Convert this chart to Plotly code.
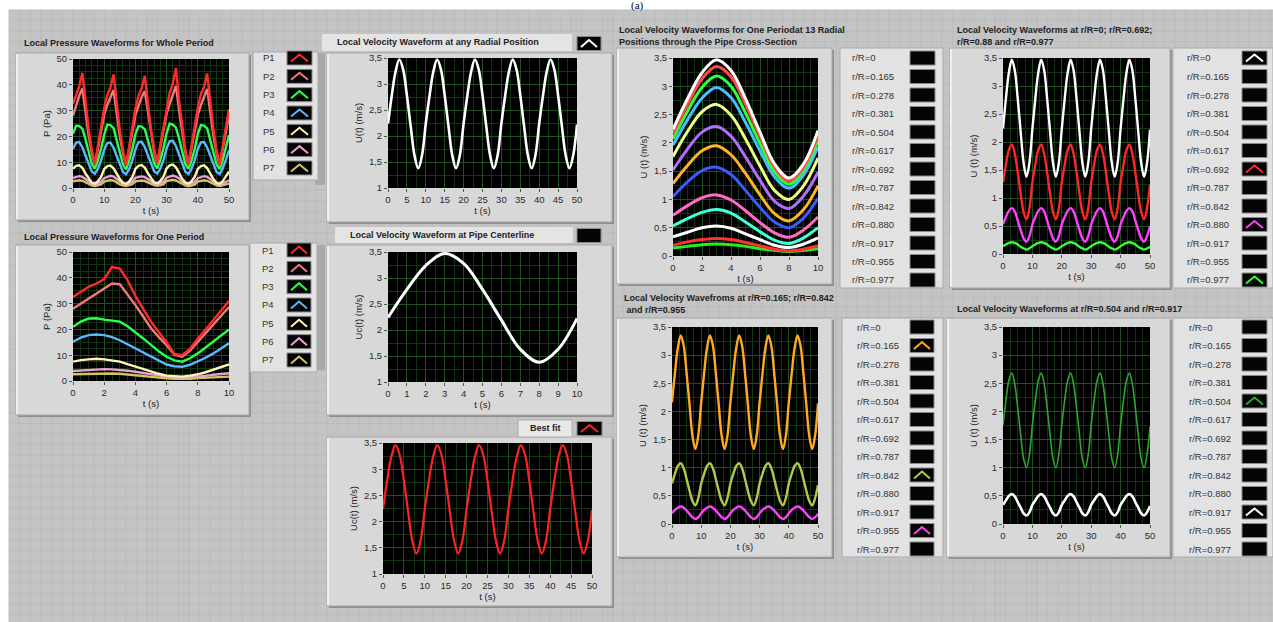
import plotly.graph_objects as go

W, H = 1273, 622

# ---------------- data ----------------
t_whole = list(range(51))                       # 0 .. 50 s, 1 s step
t_one = list(range(11))                         # 0 .. 10 s, 1 s step
t_half = [k / 2 for k in range(21)]             # 0 .. 10 s, 0.5 s step

# local pressure, whole period (Pa)
p1_whole = [32.6, 36.5, 39.5, 44.6, 33.5, 23.0, 15.0, 9.4, 16.5, 23.6,
            31.0, 36.0, 39.0, 44.0, 33.0, 22.5, 14.8, 9.0, 16.0, 23.2,
            30.8, 35.8, 38.6, 43.5, 32.8, 22.8, 15.2, 9.6, 16.8, 23.8,
            31.5, 37.0, 40.5, 46.5, 34.0, 23.5, 15.0, 9.2, 16.2, 23.4,
            31.2, 36.4, 39.2, 44.4, 33.2, 23.0, 14.6, 9.0, 16.4, 23.5, 30.5]
p2_whole = [28.0, 32.0, 35.8, 38.6, 29.4, 20.4, 13.9, 9.2, 15.2, 21.6,
            28.5, 32.2, 35.5, 38.0, 29.0, 20.0, 13.6, 9.0, 15.0, 21.4,
            28.2, 31.8, 35.2, 37.6, 29.2, 20.6, 14.0, 9.4, 15.4, 21.8,
            28.8, 32.6, 36.4, 39.6, 30.0, 20.8, 13.8, 9.1, 15.1, 21.5,
            28.4, 32.1, 35.6, 38.4, 29.3, 20.3, 13.5, 9.0, 15.3, 21.7, 28.0]
p3_whole = [21.0, 24.2, 24.0, 23.0, 19.0, 14.0, 9.4, 7.5, 10.7, 15.2,
            20.6, 24.6, 24.4, 23.2, 18.6, 13.6, 9.2, 7.2, 10.5, 15.0,
            20.8, 24.0, 23.8, 22.8, 18.8, 14.2, 9.6, 7.6, 10.9, 15.4,
            21.2, 25.0, 24.6, 23.4, 19.2, 14.1, 9.3, 7.4, 10.6, 15.1,
            20.9, 24.4, 24.2, 23.1, 18.9, 13.9, 9.2, 7.3, 10.8, 15.3, 20.5]
p4_whole = [15.2, 17.6, 17.8, 15.8, 12.6, 9.4, 6.4, 5.5, 7.5, 10.7,
            14.8, 17.4, 17.6, 15.6, 12.4, 9.2, 6.2, 5.3, 7.4, 10.6,
            15.0, 17.8, 17.9, 15.9, 12.7, 9.5, 6.5, 5.6, 7.6, 10.8,
            15.3, 18.2, 18.3, 16.2, 12.8, 9.4, 6.3, 5.4, 7.5, 10.7,
            15.1, 17.7, 17.8, 15.7, 12.5, 9.3, 6.2, 5.4, 7.6, 10.9, 14.6]
p5_whole = [7.5, 8.6, 8.8, 7.8, 5.6, 3.6, 2.1, 1.7, 2.6, 4.3,
            7.3, 8.5, 8.7, 7.6, 5.5, 3.5, 2.0, 1.6, 2.5, 4.2,
            7.4, 8.6, 8.9, 7.9, 5.7, 3.7, 2.2, 1.8, 2.7, 4.4,
            7.6, 8.8, 9.1, 8.0, 5.8, 3.6, 2.1, 1.7, 2.6, 4.3,
            7.4, 8.5, 8.8, 7.7, 5.6, 3.5, 2.0, 1.7, 2.6, 4.3, 6.4]
p6_whole = [3.9, 4.3, 4.6, 4.3, 3.6, 2.6, 1.7, 1.3, 1.7, 2.4,
            3.8, 4.4, 4.7, 4.4, 3.5, 2.5, 1.6, 1.3, 1.8, 2.5,
            3.9, 4.2, 4.5, 4.2, 3.6, 2.7, 1.8, 1.4, 1.7, 2.4,
            4.0, 4.5, 4.8, 4.4, 3.7, 2.6, 1.7, 1.2, 1.6, 2.3,
            3.8, 4.3, 4.6, 4.3, 3.6, 2.6, 1.7, 1.3, 1.7, 2.4, 3.0]
p7_whole = [2.6, 2.8, 3.0, 2.8, 2.1, 1.5, 1.0, 0.8, 1.1, 1.4,
            2.5, 2.9, 3.1, 2.9, 2.0, 1.4, 1.0, 0.8, 1.1, 1.5,
            2.6, 2.7, 2.9, 2.7, 2.1, 1.6, 1.1, 0.9, 1.2, 1.4,
            2.7, 2.9, 3.2, 2.9, 2.2, 1.5, 1.0, 0.7, 1.0, 1.3,
            2.5, 2.8, 3.0, 2.8, 2.1, 1.5, 1.0, 0.8, 1.1, 1.4, 1.7]

# local pressure, one period (Pa), 0.5 s step
p1_one = [32.6, 34.5, 36.5, 37.8, 39.5, 44.2, 43.6, 39.0, 33.0, 28.0, 23.0,
          19.0, 15.0, 10.5, 10.0, 12.5, 16.5, 20.0, 23.6, 27.5, 31.0]
p2_one = [28.0, 30.0, 32.0, 34.0, 35.8, 37.8, 37.5, 33.5, 29.4, 25.0, 20.4,
          17.0, 13.9, 10.2, 9.4, 11.8, 15.2, 18.4, 21.6, 25.0, 28.7]
p3_one = [21.0, 23.0, 24.2, 24.3, 23.8, 23.5, 23.0, 21.2, 19.0, 16.5, 14.0,
          11.5, 9.4, 8.0, 7.5, 8.8, 10.7, 13.0, 15.2, 17.6, 20.0]
p4_one = [15.2, 16.8, 17.8, 18.0, 17.8, 17.0, 15.8, 14.2, 12.6, 11.0, 9.4,
          7.8, 6.4, 5.7, 5.5, 6.3, 7.5, 9.0, 10.7, 12.6, 14.6]
p5_one = [7.5, 8.1, 8.4, 8.6, 8.4, 8.0, 7.5, 6.5, 5.5, 4.5, 3.6,
          2.8, 2.1, 1.8, 1.7, 2.1, 2.6, 3.4, 4.3, 5.4, 6.4]
p6_one = [3.9, 4.1, 4.3, 4.5, 4.6, 4.5, 4.3, 4.0, 3.6, 3.1, 2.6,
          2.1, 1.7, 1.4, 1.3, 1.5, 1.7, 2.0, 2.4, 2.7, 3.0]
p7_one = [2.6, 2.7, 2.8, 2.9, 3.0, 2.9, 2.8, 2.5, 2.1, 1.8, 1.5,
          1.2, 1.0, 0.9, 0.8, 0.9, 1.1, 1.2, 1.4, 1.5, 1.7]

# local velocity over one period at 13 radial positions (m/s), 1 s step
radial_labels = ["r/R=0", "r/R=0.165", "r/R=0.278", "r/R=0.381", "r/R=0.504",
                 "r/R=0.617", "r/R=0.692", "r/R=0.787", "r/R=0.842", "r/R=0.880",
                 "r/R=0.917", "r/R=0.955", "r/R=0.977"]
u_one = [
    [2.24, 2.78, 3.24, 3.47, 3.28, 2.78, 2.19, 1.63, 1.38, 1.63, 2.22],
    [2.16, 2.68, 3.13, 3.35, 3.17, 2.68, 2.12, 1.57, 1.33, 1.57, 2.14],
    [2.07, 2.56, 2.98, 3.18, 3.00, 2.53, 1.99, 1.49, 1.27, 1.51, 2.04],
    [1.96, 2.41, 2.79, 2.98, 2.80, 2.36, 1.86, 1.40, 1.20, 1.43, 1.93],
    [1.76, 2.20, 2.55, 2.68, 2.49, 2.07, 1.59, 1.16, 1.00, 1.24, 1.73],
    [1.52, 1.89, 2.19, 2.29, 2.12, 1.75, 1.34, 0.97, 0.84, 1.06, 1.48],
    [1.28, 1.60, 1.86, 1.95, 1.79, 1.46, 1.08, 0.75, 0.62, 0.82, 1.24],
    [1.05, 1.31, 1.51, 1.57, 1.44, 1.16, 0.86, 0.60, 0.50, 0.67, 1.02],
    [0.72, 0.89, 1.03, 1.08, 0.99, 0.80, 0.59, 0.41, 0.33, 0.46, 0.69],
    [0.53, 0.66, 0.77, 0.82, 0.76, 0.60, 0.43, 0.28, 0.22, 0.32, 0.50],
    [0.34, 0.42, 0.50, 0.53, 0.49, 0.39, 0.29, 0.19, 0.15, 0.21, 0.32],
    [0.19, 0.25, 0.29, 0.31, 0.29, 0.24, 0.18, 0.12, 0.09, 0.12, 0.18],
    [0.14, 0.17, 0.20, 0.21, 0.20, 0.17, 0.13, 0.10, 0.08, 0.10, 0.13],
]

# local velocity over the whole record (m/s), 1 s step
u_r0_whole = [2.24, 2.78, 3.24, 3.47, 3.28, 2.78, 2.19, 1.63, 1.38, 1.63,
              2.24, 2.78, 3.24, 3.47, 3.28, 2.78, 2.19, 1.63, 1.38, 1.63,
              2.24, 2.78, 3.24, 3.47, 3.28, 2.78, 2.19, 1.63, 1.38, 1.63,
              2.24, 2.78, 3.24, 3.47, 3.28, 2.78, 2.19, 1.63, 1.38, 1.63,
              2.24, 2.78, 3.24, 3.47, 3.28, 2.78, 2.19, 1.63, 1.38, 1.63, 2.22]
u_fit_whole = [2.24, 2.79, 3.24, 3.46, 3.27, 2.78, 2.19, 1.64, 1.39, 1.64,
               2.24, 2.79, 3.24, 3.46, 3.27, 2.78, 2.19, 1.64, 1.39, 1.64,
               2.24, 2.79, 3.24, 3.46, 3.27, 2.78, 2.19, 1.64, 1.39, 1.64,
               2.24, 2.79, 3.24, 3.46, 3.27, 2.78, 2.19, 1.64, 1.39, 1.64,
               2.24, 2.79, 3.24, 3.46, 3.27, 2.78, 2.19, 1.64, 1.39, 1.64, 2.22]
u_r165_whole = [2.16, 2.68, 3.13, 3.35, 3.17, 2.68, 2.12, 1.57, 1.33, 1.57,
                2.16, 2.68, 3.13, 3.35, 3.17, 2.68, 2.12, 1.57, 1.33, 1.57,
                2.16, 2.68, 3.13, 3.35, 3.17, 2.68, 2.12, 1.57, 1.33, 1.57,
                2.16, 2.68, 3.13, 3.35, 3.17, 2.68, 2.12, 1.57, 1.33, 1.57,
                2.16, 2.68, 3.13, 3.35, 3.17, 2.68, 2.12, 1.57, 1.33, 1.57, 2.14]
u_r504_whole = [1.76, 2.20, 2.55, 2.68, 2.49, 2.07, 1.59, 1.16, 1.00, 1.24,
                1.76, 2.20, 2.55, 2.68, 2.49, 2.07, 1.59, 1.16, 1.00, 1.24,
                1.76, 2.20, 2.55, 2.68, 2.49, 2.07, 1.59, 1.16, 1.00, 1.24,
                1.76, 2.20, 2.55, 2.68, 2.49, 2.07, 1.59, 1.16, 1.00, 1.24,
                1.76, 2.20, 2.55, 2.68, 2.49, 2.07, 1.59, 1.16, 1.00, 1.24, 1.73]
u_r692_whole = [1.28, 1.60, 1.86, 1.95, 1.79, 1.46, 1.08, 0.75, 0.62, 0.82,
                1.28, 1.60, 1.86, 1.95, 1.79, 1.46, 1.08, 0.75, 0.62, 0.82,
                1.28, 1.60, 1.86, 1.95, 1.79, 1.46, 1.08, 0.75, 0.62, 0.82,
                1.28, 1.60, 1.86, 1.95, 1.79, 1.46, 1.08, 0.75, 0.62, 0.82,
                1.28, 1.60, 1.86, 1.95, 1.79, 1.46, 1.08, 0.75, 0.62, 0.82, 1.24]
u_r842_whole = [0.72, 0.89, 1.03, 1.08, 0.99, 0.80, 0.59, 0.41, 0.33, 0.46,
                0.72, 0.89, 1.03, 1.08, 0.99, 0.80, 0.59, 0.41, 0.33, 0.46,
                0.72, 0.89, 1.03, 1.08, 0.99, 0.80, 0.59, 0.41, 0.33, 0.46,
                0.72, 0.89, 1.03, 1.08, 0.99, 0.80, 0.59, 0.41, 0.33, 0.46,
                0.72, 0.89, 1.03, 1.08, 0.99, 0.80, 0.59, 0.41, 0.33, 0.46, 0.69]
u_r880_whole = [0.53, 0.66, 0.77, 0.82, 0.76, 0.60, 0.43, 0.28, 0.22, 0.32,
                0.53, 0.66, 0.77, 0.82, 0.76, 0.60, 0.43, 0.28, 0.22, 0.32,
                0.53, 0.66, 0.77, 0.82, 0.76, 0.60, 0.43, 0.28, 0.22, 0.32,
                0.53, 0.66, 0.77, 0.82, 0.76, 0.60, 0.43, 0.28, 0.22, 0.32,
                0.53, 0.66, 0.77, 0.82, 0.76, 0.60, 0.43, 0.28, 0.22, 0.32, 0.50]
u_r917_whole = [0.34, 0.42, 0.50, 0.53, 0.49, 0.39, 0.29, 0.19, 0.15, 0.21,
                0.34, 0.42, 0.50, 0.53, 0.49, 0.39, 0.29, 0.19, 0.15, 0.21,
                0.34, 0.42, 0.50, 0.53, 0.49, 0.39, 0.29, 0.19, 0.15, 0.21,
                0.34, 0.42, 0.50, 0.53, 0.49, 0.39, 0.29, 0.19, 0.15, 0.21,
                0.34, 0.42, 0.50, 0.53, 0.49, 0.39, 0.29, 0.19, 0.15, 0.21, 0.32]
u_r955_whole = [0.19, 0.25, 0.29, 0.31, 0.29, 0.24, 0.18, 0.12, 0.09, 0.12,
                0.19, 0.25, 0.29, 0.31, 0.29, 0.24, 0.18, 0.12, 0.09, 0.12,
                0.19, 0.25, 0.29, 0.31, 0.29, 0.24, 0.18, 0.12, 0.09, 0.12,
                0.19, 0.25, 0.29, 0.31, 0.29, 0.24, 0.18, 0.12, 0.09, 0.12,
                0.19, 0.25, 0.29, 0.31, 0.29, 0.24, 0.18, 0.12, 0.09, 0.12, 0.18]
u_r977_whole = [0.14, 0.17, 0.20, 0.21, 0.20, 0.17, 0.13, 0.10, 0.08, 0.10,
                0.14, 0.17, 0.20, 0.21, 0.20, 0.17, 0.13, 0.10, 0.08, 0.10,
                0.14, 0.17, 0.20, 0.21, 0.20, 0.17, 0.13, 0.10, 0.08, 0.10,
                0.14, 0.17, 0.20, 0.21, 0.20, 0.17, 0.13, 0.10, 0.08, 0.10,
                0.14, 0.17, 0.20, 0.21, 0.20, 0.17, 0.13, 0.10, 0.08, 0.10, 0.13]

pressure_labels = ["P1", "P2", "P3", "P4", "P5", "P6", "P7"]
pressure_colors = ["#ff2a2a", "#f27a7a", "#2cff4a", "#5ab8ff", "#fff5b0", "#e8a0d8", "#d6c45a"]
radial_colors = ["#ffffff", "#ff4a4a", "#30ff3a", "#45c0ff", "#eeff88", "#b46cff", "#ffb428",
                 "#3a5cff", "#ff6ac8", "#45ffd8", "#ffffff", "#ff3030", "#22ee22"]

# ---------------- helpers (pixel -> paper) ----------------
def X(px):
    return px / W


def Y(py):
    return 1 - py / H


shapes = []
annotations = []
FONT = "Liberation Sans"


def rect(x0, y0, x1, y1, fill, line=None, lw=0):
    shapes.append(dict(type="rect", xref="paper", yref="paper", layer="below",
                       x0=X(x0), x1=X(x1), y0=Y(y1), y1=Y(y0), fillcolor=fill,
                       line=dict(color=line or fill, width=lw)))


def seg(x0, y0, x1, y1, color, w=1):
    shapes.append(dict(type="line", xref="paper", yref="paper", layer="below",
                       x0=X(x0), x1=X(x1), y0=Y(y0), y1=Y(y1),
                       line=dict(color=color, width=w)))


def swatch(x0, yc, x1, color=None):
    rect(x0, yc - 7, x1, yc + 7, "#050505", "#8a8a8a", 1)
    if color:
        xm = (x0 + x1) / 2
        path = "M {:.5f},{:.5f} L {:.5f},{:.5f} L {:.5f},{:.5f}".format(
            X(x0 + 4), Y(yc + 3.5), X(xm), Y(yc - 3.5), X(x1 - 4), Y(yc + 3.5))
        shapes.append(dict(type="path", xref="paper", yref="paper", layer="below",
                           path=path, line=dict(color=color, width=2)))


def text(x, y, s, size=9, bold=False, anchor="left", color="#222222", family=FONT):
    annotations.append(dict(xref="paper", yref="paper", x=X(x), y=Y(y),
                            text="<b>%s</b>" % s if bold else s, showarrow=False,
                            xanchor=anchor, yanchor="middle",
                            font=dict(size=size, color=color, family=family)))


def frame(x0, y0, x1, y1):
    rect(x0 + 2, y0 + 2, x1 + 2, y1 + 2, "#8e8e8e")
    rect(x0, y0, x1, y1, "#d8d8d8", "#a9a9a9", 1)
    seg(x0 + 1, y0 + 1, x0 + 1, y1 - 1, "#f0f0f0", 2)


# ---------------- front panel background ----------------
rect(9, 10, W, H, "#c4c4c4")
gx = 9
while gx < W:
    seg(gx, 10, gx, H, "#bcbcbc", 1)
    gx += 10.6
gy = 10
while gy < H:
    seg(9, gy, W, gy, "#bcbcbc", 1)
    gy += 10.6

# side bars next to the velocity graphs
rect(315, 53, 325, 185, "#a9a9a9")
rect(315, 245, 325, 370, "#a9a9a9")

# graph frames
for fx0, fy0, fx1, fy1 in [(16, 53, 249, 220), (16, 245, 249, 415),
                           (327, 53, 612, 222), (327, 245, 612, 415), (327, 437, 612, 606),
                           (617, 48, 832, 284), (950, 48, 1170, 288),
                           (617, 318, 832, 557), (947, 318, 1170, 557)]:
    frame(fx0, fy0, fx1, fy1)

# legend boxes
for lx0, ly0, lx1, ly1 in [(253, 52, 318, 180), (250, 243, 317, 372),
                           (840, 48, 943, 288), (1173, 48, W, 288),
                           (842, 318, 943, 557), (1173, 318, W, 557)]:
    rect(lx0, ly0, lx1, ly1, "#e2e2e2", "#a9a9a9", 1)

# label strips
rect(322, 34, 572, 51, "#e4e4e4")
rect(335, 227, 573, 243, "#e4e4e4")
rect(518, 420, 572, 437, "#e8e8e8", "#b0b0b0", 1)

# plot areas (pixel boxes)
boxes = {1: (73, 59, 229, 188), 2: (73, 252, 229, 381), 3: (388, 58, 577, 188),
         4: (388, 252, 577, 382), 5: (383, 443, 592, 574), 6: (673, 58, 818, 256),
         7: (1003, 58, 1150, 254), 8: (672, 327, 818, 524), 9: (1003, 327, 1150, 524)}
for b in boxes.values():
    rect(b[0], b[1], b[2], b[3], "#000000")

# ---------------- traces ----------------
fig = go.Figure()


def add(k, x, y, color, width=2.5, shape="linear"):
    ax = "" if k == 1 else str(k)
    fig.add_trace(go.Scatter(x=x, y=y, mode="lines", xaxis="x" + ax, yaxis="y" + ax,
                             line=dict(color=color, width=width, shape=shape),
                             showlegend=False, hoverinfo="skip"))


p_whole = [p1_whole, p2_whole, p3_whole, p4_whole, p5_whole, p6_whole, p7_whole]
p_one = [p1_one, p2_one, p3_one, p4_one, p5_one, p6_one, p7_one]
for i in range(6, -1, -1):
    add(1, t_whole, p_whole[i], pressure_colors[i], 2.4)
    add(2, t_half, p_one[i], pressure_colors[i], 2.4)

add(3, t_whole, u_r0_whole, "#ffffff", 2.6, "spline")
add(4, t_one, u_one[0], "#ffffff", 3, "spline")
add(5, t_whole, u_fit_whole, "#ff2222", 2.2, "spline")

for i in range(12, -1, -1):
    add(6, t_one, u_one[i], radial_colors[i], 3, "spline")

panel7 = [(u_r977_whole, "#33ff33"), (u_r880_whole, "#ff40ff"),
          (u_r692_whole, "#ff2626"), (u_r0_whole, "#ffffff")]
for y, c in panel7:
    add(7, t_whole, y, c, 2.4, "spline")

panel8 = [(u_r955_whole, "#ff40ff"), (u_r842_whole, "#b4c848"), (u_r165_whole, "#ffaa22")]
for y, c in panel8:
    add(8, t_whole, y, c, 2.4, "spline")

add(9, t_whole, u_r504_whole, "#2aa82a", 1.6, "spline")
add(9, t_whole, u_r917_whole, "#ffffff", 2.6, "spline")

# ---------------- axes ----------------
axis_specs = {
    1: dict(xr=[0, 50], xd=10, xm=2, yr=[0, 50], yd=10, ym=2.5, yt="P (Pa)"),
    2: dict(xr=[0, 10], xd=2, xm=0.5, yr=[0, 50], yd=10, ym=2.5, yt="P (Pa)"),
    3: dict(xr=[0, 50], xd=5, xm=2.5, yr=[1, 3.5], yd=0.5, ym=0.25, yt="U(t) (m/s)"),
    4: dict(xr=[0, 10], xd=1, xm=0.5, yr=[1, 3.5], yd=0.5, ym=0.25, yt="Uc(t) (m/s)"),
    5: dict(xr=[0, 50], xd=5, xm=2.5, yr=[1, 3.5], yd=0.5, ym=0.25, yt="Uc(t) (m/s)"),
    6: dict(xr=[0, 10], xd=2, xm=0.5, yr=[0, 3.5], yd=0.5, ym=0.25, yt="U (t) (m/s)"),
    7: dict(xr=[0, 50], xd=10, xm=2.5, yr=[0, 3.5], yd=0.5, ym=0.25, yt="U (t) (m/s)"),
    8: dict(xr=[0, 50], xd=10, xm=2.5, yr=[0, 3.5], yd=0.5, ym=0.25, yt="U (t) (m/s)"),
    9: dict(xr=[0, 50], xd=10, xm=2.5, yr=[0, 3.5], yd=0.5, ym=0.25, yt="U (t) (m/s)"),
}

layout_axes = {}
tickfont = dict(size=9.5, color="#2a2a2a", family=FONT)
for k, s in axis_specs.items():
    x0, y0, x1, y1 = boxes[k]
    ax = "" if k == 1 else str(k)
    common = dict(showgrid=True, gridcolor="#1f501f", gridwidth=1, zeroline=False,
                  showline=False, ticks="outside", ticklen=3, tickcolor="#555555",
                  tickfont=tickfont, fixedrange=True, automargin=False)
    layout_axes["xaxis" + ax] = dict(
        domain=[X(x0), X(x1)], anchor="y" + ax, range=s["xr"], dtick=s["xd"], tick0=0,
        minor=dict(showgrid=True, gridcolor="#133313", dtick=s["xm"], tick0=0),
        title=dict(text="t (s)", font=dict(size=9.5, color="#222222", family=FONT), standoff=2),
        **common)
    layout_axes["yaxis" + ax] = dict(
        domain=[Y(y1), Y(y0)], anchor="x" + ax, range=s["yr"], dtick=s["yd"], tick0=0,
        minor=dict(showgrid=True, gridcolor="#133313", dtick=s["ym"], tick0=0),
        title=dict(text=s["yt"], font=dict(size=9.5, color="#222222", family=FONT), standoff=4),
        **common)

# ---------------- titles and legends ----------------
text(637, 5, "(a)", size=11, anchor="center", color="#000000", family="Liberation Serif")
text(22, 43, "Local Pressure Waveforms for Whole Period", 9, True)
text(22, 237, "Local Pressure Waveforms for One Period", 9, True)
text(335, 42, "Local Velocity Waveform at any Radial Position", 9, True)
text(348, 235, "Local Velocity Waveform at Pipe Centerline", 9, True)
text(545, 428, "Best fit", 9, True, anchor="center")
text(617, 30, "Local Velocity Waveforms for One Periodat 13 Radial", 9, True)
text(617, 42, "Positions through the Pipe Cross-Section", 9, True)
text(955, 30, "Local Velocity Waveforms at r/R=0; r/R=0.692;", 9, True)
text(955, 42, "r/R=0.88 and r/R=0.977", 9, True)
text(622, 298, "Local Velocity Wavefroms at r/R=0.165; r/R=0.842", 9, True)
text(622, 310, " and r/R=0.955", 9, True)
text(955, 309, "Local Velocity Waveforms at r/R=0.504 and r/R=0.917", 9, True)

# plot-level swatches
swatch(577, 43.5, 601, "#ffffff")
swatch(577, 235.5, 601)
swatch(577, 428.5, 602, "#ff2222")

# pressure legends
for j, lab in enumerate(pressure_labels):
    yc = 58 + j * 18.33
    text(269, yc, lab, 9.5, anchor="center", color="#333333")
    swatch(287, yc, 312, pressure_colors[j])
    yc2 = 250 + j * 18.33
    text(268, yc2, lab, 9.5, anchor="center", color="#333333")
    swatch(287, yc2, 311, pressure_colors[j])

# radial legends
shown7 = {0: "#ffffff", 6: "#ff2626", 9: "#ff40ff", 12: "#33ff33"}
shown8 = {1: "#ffaa22", 8: "#b4c848", 11: "#ff40ff"}
shown9 = {4: "#2aa82a", 10: "#ffffff"}
for j, lab in enumerate(radial_labels):
    ya = 58 + j * 18.5
    yb = 327 + j * 18.5
    text(850, ya, lab, 9.5, color="#333333")
    swatch(910, ya, 935)
    text(1185, ya, lab, 9.5, color="#333333")
    swatch(1242, ya, 1267, shown7.get(j))
    text(855, yb, lab, 9.5, color="#333333")
    swatch(910, yb, 934, shown8.get(j))
    text(1187, yb, lab, 9.5, color="#333333")
    swatch(1242, yb, 1267, shown9.get(j))

fig.update_layout(
    width=W, height=H, autosize=False,
    margin=dict(l=0, r=0, t=0, b=0, pad=0, autoexpand=False),
    paper_bgcolor="#ffffff", plot_bgcolor="rgba(0,0,0,0)",
    separators=",.", showlegend=False,
    shapes=shapes, annotations=annotations,
    **layout_axes,
)

fig.write_html("out.html")
